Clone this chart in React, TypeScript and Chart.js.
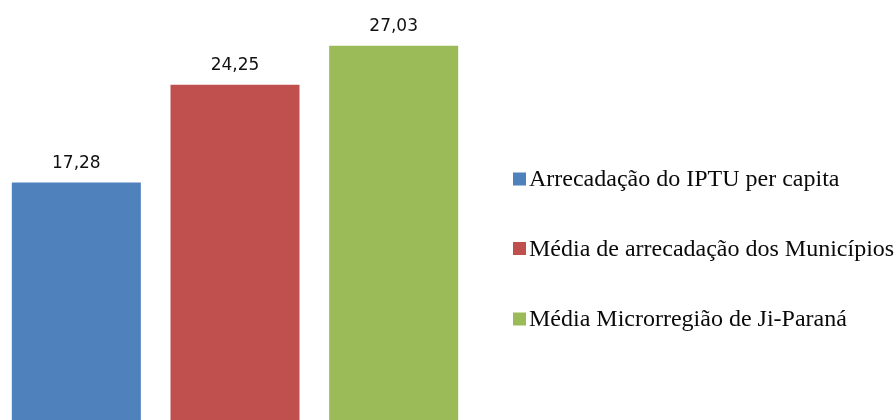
import React, { useEffect, useRef } from "react";
import { Chart, registerables } from "chart.js";

Chart.register(...registerables);

const seriesNames = [
  "Arrecadação do IPTU per capita",
  "Média de arrecadação dos Municípios",
  "Média Microrregião de Ji-Paraná",
];
const seriesValues = [17.28, 24.25, 27.03];
const seriesColors = ["#4F81BD", "#C0504D", "#9BBB59"];
const categories = ["", "", ""];

const fmt = (v: number) => v.toFixed(2).replace(".", ",");

const valueLabelPlugin = {
  id: "valueLabels",
  afterDatasetsDraw(chart: any) {
    const ctx = chart.ctx;
    ctx.save();
    ctx.font = "17px 'DejaVu Sans'";
    ctx.fillStyle = "#111";
    ctx.textAlign = "center";
    ctx.textBaseline = "alphabetic";
    chart.data.datasets.forEach((ds: any, di: number) => {
      const meta = chart.getDatasetMeta(di);
      meta.data.forEach((bar: any, i: number) => {
        const v = ds.data[i];
        if (v == null) return;
        ctx.fillText(fmt(v), bar.x, bar.y - 15);
      });
    });
    ctx.restore();
  },
};

const legendPlugin = {
  id: "customLegend",
  afterDraw(chart: any) {
    const ctx = chart.ctx;
    ctx.save();
    const boxX = 516;
    const textX = 532;
    const rowCenters = [179, 248.5, 319];
    chart.data.datasets.forEach((ds: any, i: number) => {
      const cy = rowCenters[i];
      ctx.fillStyle = ds.backgroundColor;
      ctx.fillRect(boxX, cy - 6.5, 13, 13);
      ctx.fillStyle = "#0a0a0a";
      ctx.font = "24px 'Liberation Serif'";
      ctx.textAlign = "left";
      ctx.textBaseline = "alphabetic";
      ctx.fillText(ds.label, textX, cy + 7);
    });
    ctx.restore();
  },
};

export default function App() {
  const ref = useRef<HTMLCanvasElement | null>(null);
  useEffect(() => {
    if (!ref.current) return;
    const datasets = seriesNames.map((name, i) => ({
      label: name,
      data: categories.map((_, j) => (j === i ? seriesValues[i] : null)),
      backgroundColor: seriesColors[i],
      borderWidth: 0,
      barPercentage: 0.813,
      categoryPercentage: 1,
    }));
    const chart = new Chart(ref.current, {
      type: "bar",
      data: { labels: categories, datasets },
      options: {
        animation: false,
        responsive: false,
        maintainAspectRatio: false,
        skipNull: true,
        layout: { padding: { left: 0, right: 423, top: 4, bottom: 0 } },
        plugins: { legend: { display: false }, tooltip: { enabled: false } },
        scales: {
          x: { display: false, grid: { display: false } },
          y: { display: false, min: 0, max: 30, grid: { display: false } },
        },
      } as any,
      plugins: [valueLabelPlugin, legendPlugin],
    });
    return () => chart.destroy();
  }, []);
  return (
    <div style={{ position: "fixed", left: -3, top: 0, width: 899, height: 425, background: "#fff" }}>
      <canvas ref={ref} width={899} height={425} style={{ display: "block" }} />
    </div>
  );
}
